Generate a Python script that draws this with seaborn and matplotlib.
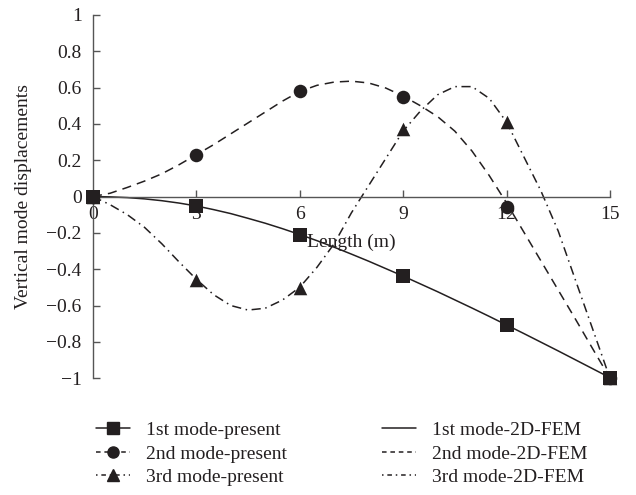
import numpy as np
import pandas as pd
import seaborn as sns
import matplotlib.pyplot as plt
from matplotlib.lines import Line2D

## Values
nodes = [0, 3, 6, 9, 12, 15]
mode1_present = [0, -0.05, -0.21, -0.44, -0.71, -1.0]
mode2_present = [0, 0.23, 0.58, 0.55, -0.055, -1.0]
mode3_present = [0, -0.46, -0.505, 0.37, 0.41, -1.0]

x_fem = [0, 0.5, 1, 1.5, 2, 2.5, 3, 3.5, 4, 4.5, 5, 5.5, 6, 6.5, 7, 7.5,
         8, 8.5, 9, 9.5, 10, 10.5, 11, 11.5, 12, 12.5, 13, 13.5, 14, 14.5, 15]
mode1_fem = [0, -0.002, -0.006, -0.013, -0.023, -0.036, -0.052, -0.072, -0.094,
             -0.12, -0.147, -0.177, -0.209, -0.243, -0.279, -0.317, -0.356,
             -0.397, -0.438, -0.481, -0.524, -0.569, -0.614, -0.66, -0.707,
             -0.754, -0.802, -0.85, -0.899, -0.948, -0.997]
mode2_fem = [0, 0.018, 0.05, 0.085, 0.125, 0.175, 0.23, 0.285, 0.345, 0.405,
             0.465, 0.525, 0.578, 0.612, 0.63, 0.635, 0.625, 0.597, 0.553, 0.5,
             0.44, 0.36, 0.25, 0.115, -0.035, -0.195, -0.355, -0.515, -0.675,
             -0.838, -1.0]
mode3_fem = [0, -0.045, -0.1, -0.17, -0.26, -0.36, -0.455, -0.54, -0.6, -0.625,
             -0.615, -0.57, -0.5, -0.39, -0.26, -0.09, 0.06, 0.21, 0.36, 0.47,
             0.56, 0.605, 0.605, 0.54, 0.41, 0.22, 0.03, -0.19, -0.46, -0.73, -1.0]

present_labels = ["1st mode-present", "2nd mode-present", "3rd mode-present"]
fem_labels = ["1st mode-2D-FEM", "2nd mode-2D-FEM", "3rd mode-2D-FEM"]
yticks = [-1, -0.8, -0.6, -0.4, -0.2, 0, 0.2, 0.4, 0.6, 0.8, 1]
ytick_labels = ["\u22121", "\u22120.8", "\u22120.6", "\u22120.4", "\u22120.2", "0",
                "0.2", "0.4", "0.6", "0.8", "1"]
xticks = [0, 3, 6, 9, 12, 15]

sns.set_style("white")
plt.rcParams["font.family"] = ["Liberation Serif", "DejaVu Serif"]
ink = "#231f20"
fs = 14

fig = plt.figure(figsize=(6.36, 4.95), dpi=100)
ax = fig.add_axes([0.146, 0.236, 0.813, 0.734])

styles = ["-", (0, (6, 4)), (0, (6, 3, 1, 3))]
legend_styles = ["-", (0, (3, 2.5)), (0, (1, 2.5, 3, 2.5))]
markers = ["s", "o", "^"]

fem = [mode1_fem, mode2_fem, mode3_fem]
present = [mode1_present, mode2_present, mode3_present]

for ys, ls in zip(fem, styles):
    sns.lineplot(x=x_fem, y=ys, ax=ax, color=ink, linestyle=ls, linewidth=1.1,
                 sort=False, estimator=None)

for ys, mk in zip(present[::-1], markers[::-1]):
    sns.scatterplot(x=nodes, y=ys, ax=ax, marker=mk, color=ink, s=95,
                    edgecolor=ink, linewidth=0, clip_on=False, zorder=5)

ax.set_xlim(0, 15)
ax.set_ylim(-1, 1)
for side in ["top", "right"]:
    ax.spines[side].set_visible(False)
ax.spines["bottom"].set_position(("data", 0))
ax.spines["left"].set_position(("data", 0))
for side in ["bottom", "left"]:
    ax.spines[side].set_color("#555555")
    ax.spines[side].set_linewidth(1.0)

ax.set_xticks(xticks)
ax.set_yticks(yticks)
ax.set_yticklabels(ytick_labels)
ax.tick_params(axis="both", direction="in", length=5, width=1.0, color="#555555",
               labelsize=fs, labelcolor=ink, bottom=True, left=True)
ax.tick_params(axis="x", pad=7)
ax.tick_params(axis="y", pad=8)

ax.set_xlabel("")
ax.set_ylabel("Vertical mode displacements", fontsize=fs, color=ink, labelpad=10)
ax.text(0.5, 0.375, "Length (m)", transform=ax.transAxes, ha="center", va="center",
        fontsize=fs, color=ink)

handles = []
for mk, ls in zip(markers, legend_styles):
    handles.append(Line2D([], [], color=ink, linestyle=ls, linewidth=1.1,
                          marker=mk, markersize=8))
for ls in legend_styles:
    handles.append(Line2D([], [], color=ink, linestyle=ls, linewidth=1.1))

fig.legend(handles, present_labels + fem_labels, ncol=2, loc="center",
           bbox_to_anchor=(0.537, 0.083), frameon=False, fontsize=fs,
           handlelength=1.75, handletextpad=0.8, columnspacing=4.9,
           labelspacing=0.3, labelcolor=ink)

fig.savefig("out.png", dpi=100)
